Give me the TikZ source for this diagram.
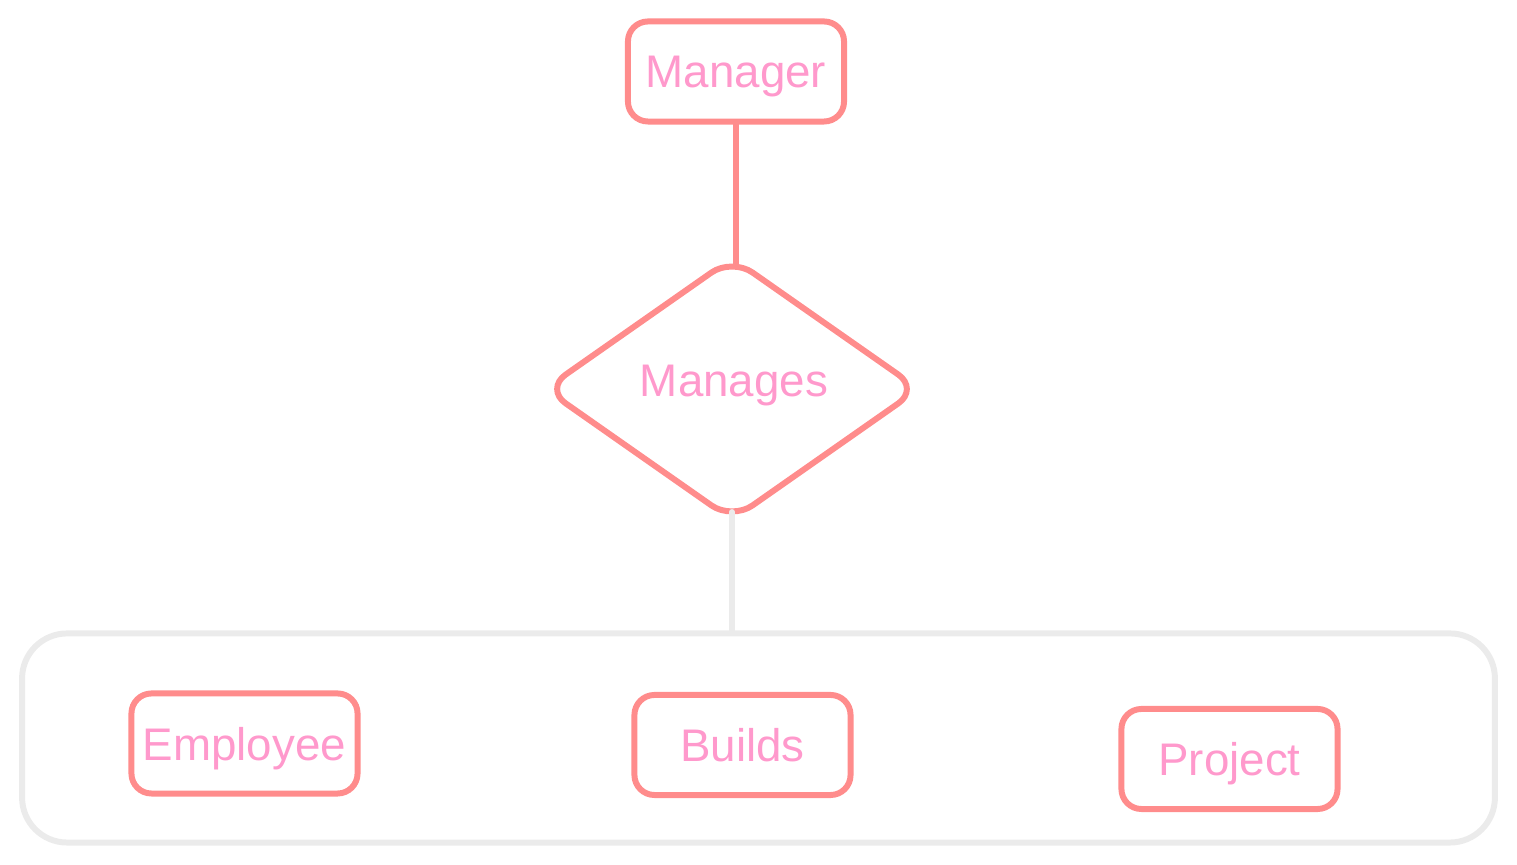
\documentclass[tikz,border=0pt]{standalone}
\usepackage{fontspec}
\setmainfont{Liberation Sans}
\usetikzlibrary{shapes.geometric, positioning, calc}
\definecolor{linered}{HTML}{FF8C8C}
\definecolor{textpink}{HTML}{FF99CC}
\definecolor{groupgrey}{HTML}{EBEBEB}
\tikzset{
	label/.style = {text=textpink, font=\fontsize{13pt}{15pt}\selectfont, text depth=0pt},
	entity/.style = {label, draw=linered, line width=1.7pt, rectangle, rounded corners=0.2cm, minimum width=2.16cm, minimum height=1.0cm, inner sep=0pt},
	relation/.style = {draw=linered, line width=1.7pt, diamond, rounded corners=0.25cm, minimum width=3.76cm, minimum height=2.64cm, inner sep=0pt},
	group/.style = {draw=groupgrey, line width=1.7pt, rectangle, rounded corners=0.45cm, minimum width=14.72cm, minimum height=2.09cm},
	link/.style = {line width=1.7pt, line cap=round},
}

\begin{document}
\begin{tikzpicture}[x=0.01cm, y=-0.01cm]
	\useasboundingbox (0,0) rectangle (1517,865);

	% Top part
	\node[entity] (manager) at (736,71.5) {Manager};
	\node[relation] (manages) at (732,389) {};
	\node[label] (managestext) at (734,381) {Manages};

	% Bottom group
	\node[group] (team) at (758.5,738) {};
	\node[entity, minimum width=2.26cm] (employee) at (244.5,743.5) {Employee};
	\node[entity] (builds) at (742.5,745) {Builds};
	\node[entity] (project) at (1229.5,759) {Project};

	% Connections
	\draw[link, linered, shorten >=-0.12cm] (manager.south) -- (manager.south |- manages.north);
	\draw[link, groupgrey, shorten <=-0.12cm] (manages.south) -- (manages.south |- team.north);

\end{tikzpicture}
\end{document}
